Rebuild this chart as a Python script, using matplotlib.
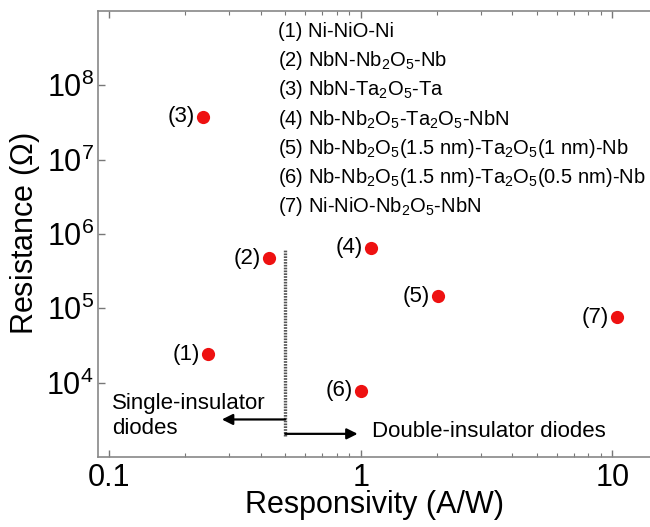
import numpy as np
import matplotlib
matplotlib.use('Agg')
import matplotlib.pyplot as plt
from matplotlib.ticker import LogLocator, NullFormatter, NullLocator

plt.rcParams['font.family'] = ['Liberation Sans', 'DejaVu Sans']
plt.rcParams['mathtext.fontset'] = 'custom'
plt.rcParams['mathtext.rm'] = 'Liberation Sans'
plt.rcParams['mathtext.it'] = 'Liberation Sans:italic'
plt.rcParams['mathtext.bf'] = 'Liberation Sans:bold'

# responsivity (A/W) and resistance (ohm) of each diode
labels = ['(1)', '(2)', '(3)', '(4)', '(5)', '(6)', '(7)']
responsivity = [0.247, 0.43, 0.236, 1.1, 2.02, 1.0, 10.4]
resistance = [2.4e4, 4.7e5, 3.8e7, 6.5e5, 1.45e5, 7.8e3, 7.6e4]

devices = [
    '(1) Ni-NiO-Ni',
    r'(2) NbN-Nb$_2$O$_5$-Nb',
    r'(3) NbN-Ta$_2$O$_5$-Ta',
    r'(4) Nb-Nb$_2$O$_5$-Ta$_2$O$_5$-NbN',
    r'(5) Nb-Nb$_2$O$_5$(1.5 nm)-Ta$_2$O$_5$(1 nm)-Nb',
    r'(6) Nb-Nb$_2$O$_5$(1.5 nm)-Ta$_2$O$_5$(0.5 nm)-Nb',
    r'(7) Ni-NiO-Nb$_2$O$_5$-NbN',
]

# divider between single- and double-insulator diodes
split_x = 0.5
split_top = 6.2e5
split_bottom = 1.9e3
single_arrow_y = 3.2e3
single_arrow_end = 0.28
double_arrow_y = 2.05e3
double_arrow_end = 0.97

fig = plt.figure(figsize=(6.5, 5.27), dpi=100)
ax = fig.add_axes([0.1508, 0.1328, 0.8492, 0.8463])

ax.plot(responsivity, resistance, 'o', color='#ee1111', markersize=9.5,
        markeredgewidth=0, zorder=3)
for lab, x, y in zip(labels, responsivity, resistance):
    ax.annotate(lab, (x, y), xytext=(-6, 0), textcoords='offset points',
                ha='right', va='center', fontsize=16)

ax.set_xscale('log')
ax.set_yscale('log')
ax.set_xlim(0.0901, 14.1)
ax.set_ylim(1e3, 1e9)

ax.set_xticks([0.1, 1, 10])
ax.set_xticklabels(['0.1', '1', '10'])
ax.xaxis.set_minor_locator(LogLocator(base=10, subs=np.arange(2, 10)))
ax.xaxis.set_minor_formatter(NullFormatter())
ax.set_yticks([1e4, 1e5, 1e6, 1e7, 1e8])
ax.yaxis.set_minor_locator(NullLocator())

ax.tick_params(axis='both', which='major', direction='in', labelsize=22,
               length=5, width=1, color='#777777', top=True, right=False)
ax.tick_params(axis='x', which='minor', direction='in', length=3,
               width=0.8, color='#777777', top=True)
ax.tick_params(axis='x', pad=4)
ax.tick_params(axis='y', pad=3)

for side in ['left', 'bottom', 'top']:
    ax.spines[side].set_color('#888888')
    ax.spines[side].set_linewidth(1.2)
ax.spines['right'].set_visible(False)

ax.set_xlabel('Responsivity (A/W)', fontsize=22, labelpad=-2)
ax.set_ylabel(r'Resistance ($\Omega$)', fontsize=22)
ax.yaxis.set_label_coords(-0.101, 0.5)

# divider and arrows
ax.plot([split_x, split_x], [split_bottom, split_top], color='#555555',
        lw=2.4, linestyle=(0, (0.5, 0.35)))
ax.annotate('', xy=(single_arrow_end, single_arrow_y),
            xytext=(split_x, single_arrow_y),
            arrowprops=dict(arrowstyle='-|>', color='black', lw=1.6,
                            mutation_scale=16, shrinkA=0, shrinkB=0))
ax.annotate('', xy=(double_arrow_end, double_arrow_y),
            xytext=(split_x, double_arrow_y),
            arrowprops=dict(arrowstyle='-|>', color='black', lw=1.6,
                            mutation_scale=16, shrinkA=0, shrinkB=0))
ax.text(0.1023, 4.47e3, 'Single-insulator', fontsize=16,
        ha='left', va='baseline')
ax.text(0.1023, 2.06e3, 'diodes', fontsize=16, ha='left', va='baseline')
ax.text(1.11, 1.87e3, 'Double-insulator diodes', fontsize=16,
        ha='left', va='baseline')

# device list
for i, d in enumerate(devices):
    ax.text(0.326, 0.9417 - i * 0.0655, d, transform=ax.transAxes,
            fontsize=14.5, ha='left', va='baseline')

fig.savefig('out.png', dpi=100)
